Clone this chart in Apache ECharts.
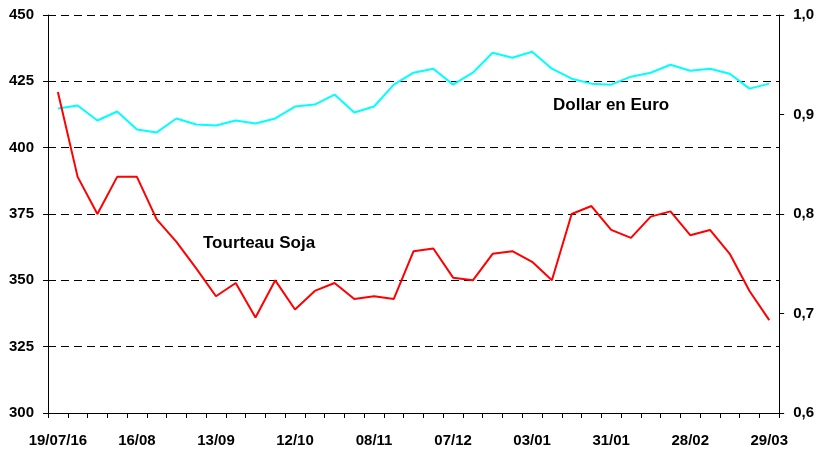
<!DOCTYPE html>
<html>
<head>
<meta charset="utf-8">
<script src="https://cdn.jsdelivr.net/npm/echarts@6/dist/echarts.min.js"></script>
<style>
  html, body { margin: 0; padding: 0; background: #fff; }
  #chart { width: 817px; height: 450px; }
</style>
</head>
<body>
<div id="chart"></div>
<script>
// semaines
var dates = ['19/07/16','26/07','02/08','09/08','16/08','23/08','30/08','06/09','13/09','20/09',
    '27/09','04/10','12/10','19/10','26/10','02/11','08/11','15/11','22/11','29/11',
    '07/12','14/12','21/12','28/12','03/01','10/01','17/01','24/01','31/01','07/02',
    '14/02','21/02','28/02','07/03','14/03','21/03','29/03'];

// Tourteau Soja (axe gauche)
var tourteauSoja = [421, 389, 375, 389, 389, 373, 364.5, 354.5, 344, 349,
    336, 350, 339, 346, 349, 343, 344, 343, 361, 362,
    351, 350, 360, 361, 357, 350, 375, 378, 369, 366,
    374, 376, 367, 369, 360, 346, 335];

// Dollar en Euro (axe droit)
var dollarEuro = [0.906, 0.909, 0.894, 0.903, 0.885, 0.882, 0.896, 0.890, 0.889, 0.894,
    0.891, 0.896, 0.908, 0.910, 0.920, 0.902, 0.908, 0.930, 0.942, 0.946,
    0.930, 0.942, 0.962, 0.957, 0.963, 0.946, 0.936, 0.931, 0.930, 0.938,
    0.942, 0.950, 0.944, 0.946, 0.941, 0.926, 0.931];

var myChart = echarts.init(document.getElementById('chart'));

var labelStyle = {
    color: '#000',
    fontFamily: 'Liberation Sans',
    fontWeight: 'bold',
    fontSize: 15
};

var option = {
    animation: false,
    grid: { left: 48, right: 37, top: 15, bottom: 37, containLabel: false },
    xAxis: {
        type: 'category',
        data: dates,
        boundaryGap: true,
        axisLine: { lineStyle: { color: '#000', width: 1 } },
        axisTick: { show: true, interval: 0, length: 5, lineStyle: { color: '#000' } },
        axisLabel: Object.assign({ interval: 3, margin: 20 }, labelStyle),
        splitLine: { show: false }
    },
    yAxis: [
        {
            type: 'value',
            min: 300, max: 450, interval: 25,
            axisLine: { show: true, lineStyle: { color: '#000' } },
            axisTick: { show: true, length: 5, lineStyle: { color: '#000' } },
            axisLabel: Object.assign({ margin: 14 }, labelStyle),
            splitLine: { show: true, lineStyle: { color: '#000', type: [8, 5], width: 1 } }
        },
        {
            type: 'value',
            min: 0.6, max: 1.0, interval: 0.1,
            position: 'right',
            axisLine: { show: true, lineStyle: { color: '#000' } },
            axisTick: { show: true, length: 5, lineStyle: { color: '#000' } },
            axisLabel: Object.assign({
                margin: 14,
                formatter: function (v) { return v.toFixed(1).replace('.', ','); }
            }, labelStyle),
            splitLine: { show: false }
        }
    ],
    graphic: [
        { type: 'text', left: 553, top: 97, style: { text: 'Dollar en Euro', fill: '#000', font: 'bold 17px "Liberation Sans"' } },
        { type: 'text', left: 203, top: 235, style: { text: 'Tourteau Soja', fill: '#000', font: 'bold 17px "Liberation Sans"' } }
    ],
    series: [
        {
            name: 'Tourteau Soja',
            type: 'line',
            yAxisIndex: 0,
            data: tourteauSoja,
            symbol: 'none',
            lineStyle: { color: '#ff0000', width: 2 },
            z: 3
        },
        {
            name: 'Dollar en Euro',
            type: 'line',
            yAxisIndex: 1,
            data: dollarEuro,
            symbol: 'none',
            lineStyle: { color: '#00ffff', width: 2 },
            z: 2
        }
    ]
};

myChart.setOption(option);
</script>
</body>
</html>
